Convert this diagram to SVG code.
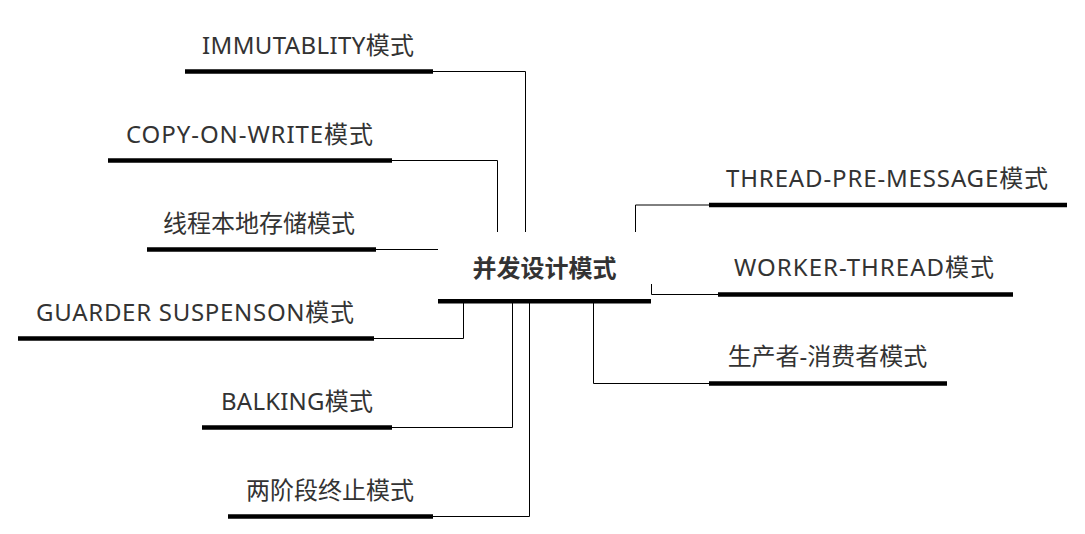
<svg xmlns="http://www.w3.org/2000/svg" width="1085" height="534" viewBox="0 0 1085 534">
<style>
.bar{stroke:#000;stroke-width:4.5;fill:none}
.con{stroke:#000;stroke-width:1;fill:none}
.lbl{font-family:"Noto Sans","Noto Sans CJK SC",sans-serif;font-size:24px;fill:#333;text-anchor:middle}
.main{font-family:"Noto Sans CJK SC","Noto Sans",sans-serif;font-size:24px;font-weight:bold;fill:#333;text-anchor:middle}
</style>
<rect width="1085" height="534" fill="#fff"/>
<g id="connectors">
<path class="con" d="M433,71.5H525.5V232"/>
<path class="con" d="M392,160.5H497.5V232"/>
<path class="con" d="M376,249.5H438"/>
<path class="con" d="M374,338.5H463.5V301"/>
<path class="con" d="M392,427.5H512.5V301"/>
<path class="con" d="M433,516.5H529.5V301"/>
<path class="con" d="M635.5,232V205H709"/>
<path class="con" d="M651.5,284V294.5H718"/>
<path class="con" d="M593.5,301V383.5H709"/>
</g>
<g id="center">
<text class="main" x="544.5" y="277">并发设计模式</text>
<line class="bar" x1="438" y1="301.3" x2="651" y2="301.3"/>
</g>
<g id="n1">
<text class="lbl" x="308" y="53.5" textLength="212" lengthAdjust="spacing">IMMUTABLITY模式</text>
<line class="bar" x1="185" y1="71.5" x2="433" y2="71.5"/>
</g>
<g id="n2">
<text class="lbl" x="249.5" y="142.5" textLength="247" lengthAdjust="spacing">COPY-ON-WRITE模式</text>
<line class="bar" x1="108" y1="160.5" x2="392" y2="160.5"/>
</g>
<g id="n3">
<text class="lbl" x="259" y="231.5">线程本地存储模式</text>
<line class="bar" x1="147" y1="249.5" x2="376" y2="249.5"/>
</g>
<g id="n4">
<text class="lbl" x="195" y="320.5" textLength="318" lengthAdjust="spacing">GUARDER SUSPENSON模式</text>
<line class="bar" x1="18" y1="338.5" x2="374" y2="338.5"/>
</g>
<g id="n5">
<text class="lbl" x="297" y="409.5" textLength="152" lengthAdjust="spacing">BALKING模式</text>
<line class="bar" x1="202" y1="427.5" x2="392" y2="427.5"/>
</g>
<g id="n6">
<text class="lbl" x="330" y="498.5">两阶段终止模式</text>
<line class="bar" x1="228" y1="516.5" x2="433" y2="516.5"/>
</g>
<g id="n7">
<text class="lbl" x="887" y="187" textLength="322" lengthAdjust="spacing">THREAD-PRE-MESSAGE模式</text>
<line class="bar" x1="709" y1="205" x2="1067" y2="205"/>
</g>
<g id="n8">
<text class="lbl" x="864" y="276" textLength="260" lengthAdjust="spacing">WORKER-THREAD模式</text>
<line class="bar" x1="718" y1="294.5" x2="1013" y2="294.5"/>
</g>
<g id="n9">
<text class="lbl" x="827.5" y="365">生产者-消费者模式</text>
<line class="bar" x1="709" y1="383.5" x2="947" y2="383.5"/>
</g>
</svg>
